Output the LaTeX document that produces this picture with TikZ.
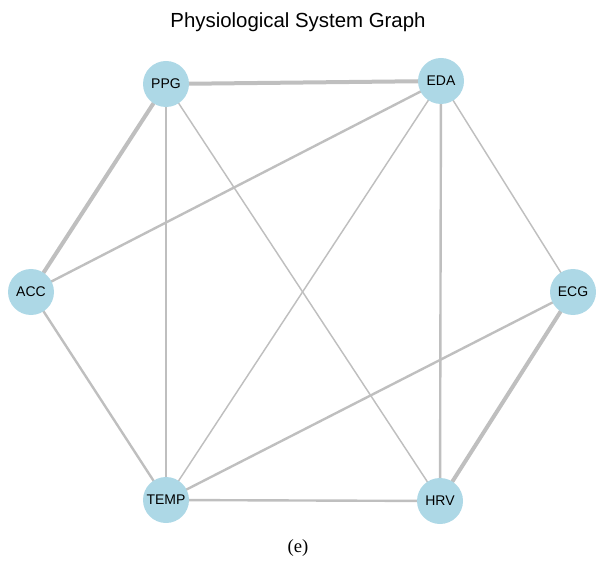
\documentclass[tikz,border=0pt]{standalone}
\usepackage{fontspec}
\setmainfont{Liberation Serif}
\setsansfont{Liberation Sans}
\usetikzlibrary{backgrounds}
\definecolor{nodeblue}{HTML}{ADD8E6}
\definecolor{edgegray}{HTML}{BFBFBF}
\tikzset{
  vert/.style={circle, fill=nodeblue, minimum size=46*0.75pt, inner sep=0pt, font=\sffamily\fontsize{10.5}{12}\selectfont},
  edge/.style={draw=edgegray, line cap=round},
  wthin/.style={edge, line width=1.1pt},
  wmed/.style={edge, line width=1.8pt},
  wthick/.style={edge, line width=3pt}
}
\begin{document}
\begin{tikzpicture}[x=0.75pt, y=-0.75pt]
\useasboundingbox (0,0) rectangle (596,570);
\node[font=\sffamily\fontsize{15.3}{18}\selectfont] (title) at (298,22) {Physiological System Graph};
\node[vert] (PPG) at (166,84) {PPG};
\node[vert] (EDA) at (441,81) {EDA};
\node[vert] (ACC) at (31,292) {ACC};
\node[vert] (ECG) at (573,292) {ECG};
\node[vert] (TEMP) at (166,500) {TEMP};
\node[vert] (HRV) at (440,501) {HRV};
\node[font=\fontsize{14}{16}\selectfont] (cap) at (298,548) {(e)};
\begin{scope}[on background layer]
\draw[wthick] (PPG.center) -- (EDA.center);
\draw[wthick] (PPG.center) -- (ACC.center);
\draw[wmed] (PPG.center) -- (TEMP.center);
\draw[wthin] (PPG.center) -- (HRV.center);
\draw[wmed] (EDA.center) -- (ACC.center);
\draw[wthin] (EDA.center) -- (TEMP.center);
\draw[wmed] (EDA.center) -- (HRV.center);
\draw[wthin] (EDA.center) -- (ECG.center);
\draw[wmed] (ACC.center) -- (TEMP.center);
\draw[wmed] (TEMP.center) -- (HRV.center);
\draw[wmed] (TEMP.center) -- (ECG.center);
\draw[wthick] (ECG.center) -- (HRV.center);
\end{scope}
\end{tikzpicture}
\end{document}
